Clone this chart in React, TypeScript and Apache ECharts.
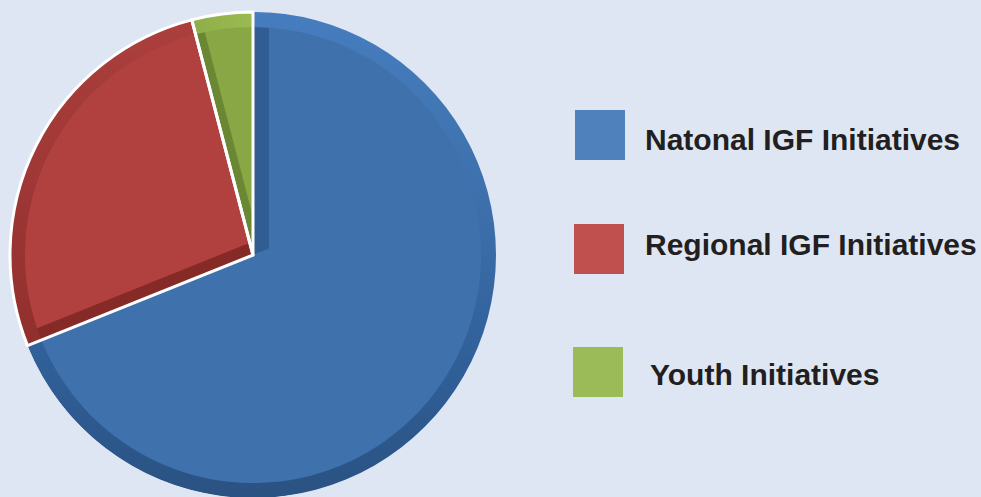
import React, { useEffect, useRef } from "react";
import * as echarts from "echarts";

const categories = ["Natonal IGF Initiatives", "Regional IGF Initiatives", "Youth Initiatives"];
const values = [51, 20, 3];
const legendColors = ["#4f81bd", "#c0504d", "#9bbb59"];
const faceColors = ["#3f72ad", "#b1413f", "#8aa746"];
const edgeShadeColors = ["#315d92", "#862a28", "#6a8733"];

const CX = 253;
const CY = 255;
const R = 243;
const RIM = 15;
const EDGE_BAND = [16, 12.5, 9.5];

const rimFills: any[] = [
  {
    type: "linear",
    x: 0,
    y: CY - R,
    x2: 0,
    y2: CY + R,
    global: true,
    colorStops: [
      { offset: 0, color: "#467dbf" },
      { offset: 0.4, color: "#3d70ab" },
      { offset: 0.7, color: "#31609a" },
      { offset: 1, color: "#2a5282" },
    ],
  },
  {
    type: "linear",
    x: 0,
    y: 20,
    x2: 0,
    y2: 350,
    global: true,
    colorStops: [
      { offset: 0, color: "#ab3f3d" },
      { offset: 1, color: "#912f2d" },
    ],
  },
  {
    type: "linear",
    x: 0,
    y: 0,
    x2: 1,
    y2: 0,
    colorStops: [
      { offset: 0, color: "#8fae49" },
      { offset: 1, color: "#9aba52" },
    ],
  },
];

function dir(bearingDeg: number) {
  const b = (bearingDeg * Math.PI) / 180;
  return { x: Math.sin(b), y: -Math.cos(b) };
}

// Face offset for slice i: edge bands derived from the slice's angles
function faceShift(i: number) {
  const total = values.reduce((a, b) => a + b, 0);
  let start = 0;
  for (let k = 0; k < i; k++) start += (values[k] / total) * 360;
  const end = start + (values[i] / total) * 360;
  const ns = dir(start - 90);
  const ne = dir(end + 90);
  const ds = EDGE_BAND[i];
  const de = 0;
  const det = ns.x * ne.y - ns.y * ne.x;
  const vx = (-ds * ne.y + de * ns.y) / det;
  const vy = (-de * ns.x + ds * ne.x) / det;
  return { x: vx, y: vy };
}

function baseSeries(extra: any): any {
  return {
    type: "pie",
    silent: true,
    startAngle: 90,
    clockwise: true,
    center: [CX, CY],
    radius: R,
    label: { show: false },
    labelLine: { show: false },
    emphasis: { disabled: true },
    ...extra,
  };
}

function items(style: (i: number) => any) {
  return categories.map((name, i) => ({ name, value: values[i], itemStyle: style(i) }));
}

export default function App() {
  const ref = useRef<HTMLDivElement>(null);
  useEffect(() => {
    if (!ref.current) return;
    const chart = echarts.init(ref.current, undefined, { renderer: "svg" });
    const legendBoxes = [
      { x: 575, y: 110, tx: 645, ty: 124 },
      { x: 574, y: 224, tx: 645, ty: 229 },
      { x: 573, y: 347, tx: 650, ty: 359 },
    ];
    const legendGraphics: any[] = [];
    categories.forEach((name, i) => {
      const p = legendBoxes[i];
      legendGraphics.push({
        type: "rect",
        silent: true,
        shape: { x: p.x, y: p.y, width: 50, height: 50 },
        style: { fill: legendColors[i] },
        z: 60,
      });
      legendGraphics.push({
        type: "text",
        silent: true,
        x: p.tx,
        y: p.ty,
        z: 60,
        style: {
          text: name,
          fill: "#231f20",
          font: "bold 30px 'Liberation Sans', Arial, sans-serif",
          align: "left",
          verticalAlign: "top",
        },
      });
    });
    const faceSeries = categories.map((_, idx) => {
      const v = faceShift(idx);
      const rr = R - RIM + Math.hypot(v.x, v.y) + 2;
      return baseSeries({
        center: [CX + v.x, CY + v.y],
        radius: rr,
        z: 3,
        data: items((i) =>
          i === idx
            ? { color: faceColors[i], borderWidth: 0 }
            : { color: "transparent", borderWidth: 0 }
        ),
      });
    });
    chart.setOption({
      animation: false,
      backgroundColor: "#dfe6f3",
      graphic: [
        {
          type: "ring",
          z: 50,
          silent: true,
          shape: { cx: CX, cy: CY, r0: R, r: R + 60 },
          style: { fill: "#dfe6f3" },
        },
        ...legendGraphics,
      ],
      series: [
        baseSeries({
          z: 2,
          data: items((i) => ({ color: edgeShadeColors[i], borderWidth: 0 })),
        }),
        ...faceSeries,
        baseSeries({
          z: 4,
          radius: [R - RIM, R],
          data: items((i) => ({ color: rimFills[i], borderWidth: 0 })),
        }),
        baseSeries({
          z: 100,
          data: items((i) => ({
            color: "transparent",
            borderColor: "#ffffff",
            borderWidth: i === 0 ? 0 : 3,
          })),
        }),
      ],
    });
    return () => chart.dispose();
  }, []);
  return (
    <div
      ref={ref}
      style={{ position: "fixed", left: 0, top: 0, width: 981, height: 497 }}
    />
  );
}
